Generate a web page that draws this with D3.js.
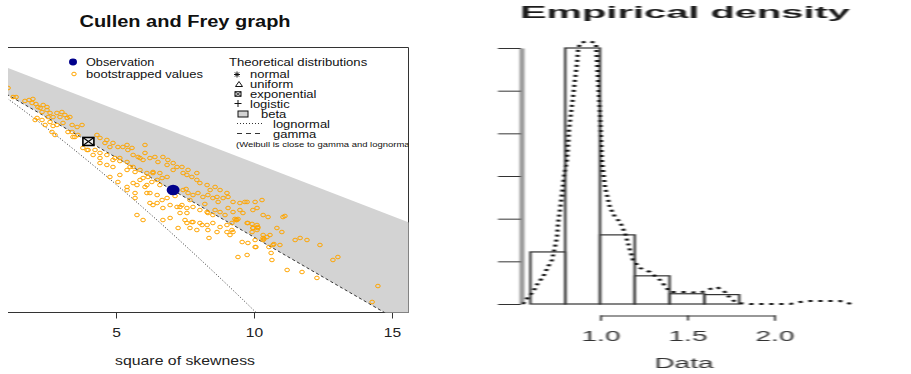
<!DOCTYPE html>
<html>
<head>
<meta charset="utf-8">
<script src="https://cdn.jsdelivr.net/npm/d3@7"></script>
<style>
  html, body { margin: 0; padding: 0; background: #fff; }
  svg { display: block; font-family: "Liberation Sans", Arial, sans-serif; }
</style>
</head>
<body>
<svg id="chart" width="911" height="374"></svg>
<script>
// ---- Cullen and Frey graph: [square of skewness, kurtosis] ----
const observation = [7.07, 13.57];
const bootstrapped = [
  [1.09,3.97],[1.27,4.82],[1.38,4.82],[1.85,5.10],[1.99,5.00],[1.96,5.38],[2.10,5.48],[2.17,5.76],[2.25,5.85],[2.36,5.57],
  [2.32,6.23],[2.50,6.04],[2.61,6.32],[2.54,6.70],[2.72,6.70],[2.86,6.32],[2.97,6.70],[3.15,6.51],[3.23,6.79],[3.33,6.70],
  [2.14,6.79],[2.07,6.98],[2.32,6.98],[2.61,7.17],[2.43,7.45],[2.86,7.45],[3.08,7.26],[3.41,7.45],[3.59,7.64],[3.77,7.45],
  [2.68,8.11],[2.79,8.39],[3.41,8.11],[3.51,8.58],[3.62,8.39],[4.31,8.39],[4.42,8.67],[4.67,8.86],[4.89,9.14],[5.07,9.52],
  [5.40,9.33],[5.58,9.61],[3.80,9.61],[3.99,9.80],[4.24,9.80],[4.42,10.08],[4.67,10.27],[4.96,10.56],[5.14,10.84],[5.40,10.93],
  [4.17,10.27],[4.42,10.56],[2.50,5.76],[2.72,7.54],[3.26,8.11],[3.44,8.58],[4.60,9.14],[4.78,9.52],[5.25,9.52],[5.43,9.80],
  [6.05,9.33],[3.95,9.80],[4.89,10.74],[5.14,10.56],[5.80,10.46],[5.98,10.74],[4.42,11.03],[4.67,11.21],[4.89,11.40],[5.40,11.68],
  [5.62,11.40],[5.87,11.68],[6.12,11.97],[6.34,11.87],[6.59,11.97],[6.85,12.34],[7.07,11.68],[7.39,11.40],[7.57,12.15],[7.93,11.97],
  [5.62,12.91],[5.87,12.62],[6.12,13.10],[6.30,12.81],[6.59,13.10],[4.78,12.34],[5.07,12.81],[5.40,13.28],[3.04,6.23],[1.70,5.19],
  [5.62,10.27],[5.87,10.56],[6.05,10.08],[6.23,10.56],[6.41,10.46],[6.52,10.93],[6.70,10.46],[6.85,11.21],[6.88,10.74],[7.07,11.03],
  [7.21,11.40],[7.43,11.97],[7.61,11.68],[7.75,12.34],[7.93,12.62],[8.04,12.91],[8.30,13.10],[8.41,13.57],[8.59,13.28],[8.77,13.57],
  [9.02,13.85],[8.66,14.22],[5.51,11.40],[5.69,11.87],[5.98,12.44],[6.16,12.34],[6.34,11.97],[6.49,12.62],[6.67,12.44],[7.43,13.57],
  [7.54,13.47],[7.61,13.85],[7.79,14.04],[7.97,13.85],[8.15,14.22],[8.33,14.04],[8.51,14.32],[8.70,14.69],[8.88,14.32],[9.06,14.22],
  [9.24,14.69],[9.49,14.79],[9.75,14.69],[10.04,14.69],[10.29,14.51],[5.69,13.85],[6.05,13.28],[6.23,13.85],[6.49,14.04],[6.67,14.51],
  [6.85,14.32],[6.23,14.79],[6.49,14.79],[6.70,15.26],[6.96,14.98],[7.32,15.16],[7.57,15.26],[7.79,15.16],[8.04,15.45],[8.33,15.73],
  [8.59,15.45],[8.77,15.64],[9.06,15.26],[9.24,15.64],[9.49,15.45],[9.60,15.73],[10.11,15.26],[6.70,16.39],[6.96,16.20],[7.25,17.14],
  [7.57,16.67],[7.79,16.58],[8.12,16.86],[8.33,17.33],[7.93,17.33],[7.68,17.14],[9.02,16.86],[9.20,17.33],[9.38,16.39],[9.78,16.67],
  [10.14,17.14],[9.13,17.80],[9.57,18.46],[10.04,18.27],[10.33,18.08],[10.47,17.99],[5.76,15.92],[5.98,16.39],[5.40,13.57],[5.76,13.10],
  [6.12,13.85],[5.69,14.32],[6.34,14.98],[7.21,15.16],[7.39,14.98],[7.57,15.73],[8.30,15.64],[8.51,15.92],[9.67,14.69],[10.33,15.92],
  [10.51,16.11],[11.05,16.11],[11.12,16.01],[7.32,15.73],[7.50,16.39],[7.75,16.58],[8.04,16.67],[8.30,16.86],[8.51,16.67],[8.77,17.05],
  [9.20,16.67],[9.31,16.29],[9.35,16.39],[9.42,16.29],[9.75,16.67],[10.11,16.86],[8.66,17.52],[9.02,17.52],[9.24,17.52],[9.96,17.14],
  [10.11,17.33],[10.33,17.80],[10.58,17.80],[10.83,17.14],[11.01,17.52],[8.37,18.08],[9.78,18.55],[10.04,18.93],[10.33,18.27],[10.69,18.74],
  [10.94,18.74],[11.49,18.27],[11.67,18.08],[11.92,18.27],[12.39,18.74],[9.42,19.87],[9.75,19.68],[10.65,20.15],[12.86,20.15],[13.04,19.87],
  [11.20,21.09],[11.74,21.28],[12.28,21.84],[14.49,22.60],[14.28,24.10],[9.96,15.45],[9.93,16.76],[9.96,17.14],[10.14,17.05],[9.93,17.52],
  [10.36,18.18],[10.07,18.93],[10.54,18.93],[10.72,18.65],[10.62,19.49],[7.68,14.51],[7.14,14.13],[8.22,14.88],[8.95,15.92],[5.14,12.15]
];
const lognormalCurve = [[0,3],[0.465,3.84],[0.961,4.76],[1.488,5.76],[2.048,6.85],[3.267,9.32],[4.624,12.21],[6.125,15.56],[7.776,19.43],[9.583,23.85],[10.547,26.29]];
const gammaLine = [[0,3],[16,27]];
const betaUpper = [[0,1],[16,17]];
const normalPoint = [0, 3];
const uniformPoint = [0, 1.8];
const exponentialPoint = [4, 9];
const logisticPoint = [0, 4.2];
const skewTicks = [5, 10, 15];

// ---- Empirical density ----
const binEdges = [0.6, 0.8, 1.0, 1.2, 1.4, 1.6, 1.8];
const binDensity = [0.61, 3.0, 0.81, 0.33, 0.12, 0.11];
const densityX = [0.557,0.586,0.615,0.644,0.672,0.701,0.724,0.741,0.753,0.759,0.770,0.782,0.793,0.810,0.816,0.822,0.833,0.845,0.856,0.868,0.874,0.885,0.931,0.977,0.989,1.0,1.011,1.029,1.057,1.086,1.115,1.144,1.172,1.190,1.230,1.287,1.345,1.402,1.460,1.517,1.575,1.632,1.672,1.718,1.747,1.787,1.862,2.092,2.149,2.207,2.305,2.379,2.420,2.448];
const densityY = [0,0.082,0.141,0.246,0.316,0.434,0.516,0.668,0.785,0.949,1.102,1.301,1.488,1.688,1.840,2.039,2.238,2.426,2.625,2.824,2.977,3.059,3.082,3.059,2.625,2.238,1.688,1.371,1.137,1.020,0.961,0.832,0.633,0.516,0.422,0.375,0.281,0.141,0.141,0.141,0.129,0.176,0.199,0.141,0.070,0.012,0,0,0.023,0.035,0.035,0.035,0.012,0];
const dataTicks = [1.0, 1.5, 2.0];
const densityTicks = [0, 0.5, 1, 1.5, 2, 2.5, 3];

const svg = d3.select('#chart');
const defs = svg.append('defs');
defs.append('clipPath').attr('id', 'cfClip')
  .append('rect').attr('x', 8).attr('y', 47).attr('width', 400.5).attr('height', 265.5);
defs.append('filter').attr('id', 'soft')
  .attr('x', '-10%').attr('y', '-10%').attr('width', '120%').attr('height', '120%')
  .append('feGaussianBlur').attr('stdDeviation', '1 0.7');

// text squeezed like the reference (wider than tall)
function stretched(parent, px, py, str, size, k, anchor, weight) {
  return parent.append('text')
    .attr('transform', `translate(${px},${py}) scale(${k},1)`)
    .attr('text-anchor', anchor || 'start')
    .attr('font-size', size)
    .attr('font-weight', weight || 'normal')
    .attr('fill', '#111')
    .text(str);
}

// ================= left: Cullen and Frey =================
const x = d3.scaleLinear().domain([5, 15]).range([116, 392]);
const y = d3.scaleLinear().domain([0, 25]).range([45.8, 311.55]);
const line = d3.line().x(d => x(d[0])).y(d => y(d[1]));

const cf = svg.append('g');
stretched(cf, 185, 27, 'Cullen and Frey graph', 16, 1.25, 'middle', 'bold');

cf.append('path')
  .attr('d', 'M8,47.5H408.5V312.5H8')
  .attr('fill', 'none')
  .attr('stroke', '#333');

const xAxis = cf.append('g')
  .attr('transform', 'translate(0,312.5)')
  .call(d3.axisBottom(x).tickValues(skewTicks).tickSize(6).tickSizeOuter(0).tickFormat(d3.format('d')));
xAxis.select('.domain').remove();
xAxis.selectAll('line').attr('stroke', '#333');
xAxis.selectAll('text')
  .attr('y', 24.5).attr('dy', 0)
  .attr('font-size', 12)
  .attr('font-family', '"Liberation Sans", Arial, sans-serif')
  .attr('fill', '#222')
  .attr('transform', 'scale(1.3,1)');

stretched(cf, 185, 365, 'square of skewness', 12, 1.32, 'middle').attr('fill', '#222');

const plot = cf.append('g').attr('clip-path', 'url(#cfClip)');

plot.append('path')
  .attr('d', line(betaUpper.concat(gammaLine.slice().reverse())) + 'Z')
  .attr('fill', '#d3d3d3');

plot.append('path')
  .datum(lognormalCurve)
  .attr('d', d3.line().curve(d3.curveMonotoneX).x(d => x(d[0])).y(d => y(d[1])))
  .attr('fill', 'none')
  .attr('stroke', '#333')
  .attr('stroke-dasharray', '1,2');

plot.append('path')
  .datum(gammaLine)
  .attr('d', line)
  .attr('fill', 'none')
  .attr('stroke', '#333')
  .attr('stroke-dasharray', '3,2.5');

// theoretical points (only exponential falls inside the window)
function boxX(g, cx, cy, w, h, sw) {
  g.append('rect').attr('x', cx - w / 2).attr('y', cy - h / 2).attr('width', w).attr('height', h)
    .attr('fill', '#eee').attr('stroke', '#000').attr('stroke-width', sw);
  g.append('path')
    .attr('d', `M${cx - w / 2},${cy - h / 2}L${cx + w / 2},${cy + h / 2}M${cx + w / 2},${cy - h / 2}L${cx - w / 2},${cy + h / 2}`)
    .attr('stroke', '#000').attr('stroke-width', sw * 0.7);
}
function star(g, cx, cy, r) {
  g.append('path')
    .attr('d', `M${cx - r},${cy}H${cx + r}M${cx},${cy - r}V${cy + r}M${cx - r * 0.7},${cy - r * 0.7}L${cx + r * 0.7},${cy + r * 0.7}M${cx + r * 0.7},${cy - r * 0.7}L${cx - r * 0.7},${cy + r * 0.7}`)
    .attr('stroke', '#111');
}
function tri(g, cx, cy, w, h) {
  g.append('path').attr('d', `M${cx - w / 2},${cy + h / 2}H${cx + w / 2}L${cx},${cy - h / 2}Z`)
    .attr('fill', 'none').attr('stroke', '#111');
}
function plus(g, cx, cy, r) {
  g.append('path').attr('d', `M${cx - r},${cy}H${cx + r}M${cx},${cy - r}V${cy + r}`).attr('stroke', '#111');
}
star(plot, x(normalPoint[0]), y(normalPoint[1]), 4);
tri(plot, x(uniformPoint[0]), y(uniformPoint[1]), 8, 6);
plus(plot, x(logisticPoint[0]), y(logisticPoint[1]), 4);

plot.append('g').selectAll('ellipse')
  .data(bootstrapped)
  .join('ellipse')
  .attr('cx', d => x(d[0]))
  .attr('cy', d => y(d[1]))
  .attr('rx', 2.3)
  .attr('ry', 1.8)
  .attr('fill', 'none')
  .attr('stroke', '#ffa500')
  .attr('stroke-width', 1);

boxX(plot, x(exponentialPoint[0]), y(exponentialPoint[1]), 11, 8, 1.6);

plot.append('ellipse')
  .attr('cx', x(observation[0]))
  .attr('cy', y(observation[1]))
  .attr('rx', 6.5)
  .attr('ry', 5.2)
  .attr('fill', '#00008b');

// legends
const lg = plot.append('g');
lg.append('ellipse').attr('cx', 73).attr('cy', 62).attr('rx', 4).attr('ry', 3.4).attr('fill', '#00008b');
stretched(lg, 86, 66, 'Observation', 10, 1.27);
lg.append('ellipse').attr('cx', 74).attr('cy', 74).attr('rx', 2.2).attr('ry', 1.8)
  .attr('fill', 'none').attr('stroke', '#ffa500');
stretched(lg, 86, 78, 'bootstrapped values', 10, 1.3);

stretched(lg, 229, 66, 'Theoretical distributions', 10, 1.31);
star(lg, 237, 74.5, 3);
stretched(lg, 250, 78, 'normal', 10, 1.3);
tri(lg, 239, 84, 7, 5);
stretched(lg, 250, 88, 'uniform', 10, 1.3);
boxX(lg, 238, 94, 6, 4.5, 1);
stretched(lg, 250, 98, 'exponential', 10, 1.3);
plus(lg, 238, 103.5, 3.5);
stretched(lg, 250, 107.5, 'logistic', 10, 1.3);
lg.append('rect').attr('x', 238).attr('y', 111).attr('width', 10).attr('height', 6)
  .attr('fill', '#d3d3d3').attr('stroke', '#111');
stretched(lg, 261, 117.5, 'beta', 10, 1.3);
lg.append('path').attr('d', 'M237,123.5H262').attr('stroke', '#333').attr('stroke-dasharray', '1,2');
stretched(lg, 273, 127.5, 'lognormal', 10, 1.3);
lg.append('path').attr('d', 'M237,133.5H262').attr('stroke', '#333').attr('stroke-dasharray', '5,4');
stretched(lg, 273, 137.5, 'gamma', 10, 1.3);
stretched(lg, 236, 146.5, '(Weibull is close to gamma and lognormal)', 7.3, 1.3);

// ================= right: Empirical density =================
const ed = svg.append('g').attr('filter', 'url(#soft)');
const inner = ed.append('g').attr('transform', 'scale(2,1)');
const xd = d3.scaleLinear().domain([1, 2]).range([300, 387]);
const yd = d3.scaleLinear().domain([0, 3]).range([304, 48]);

inner.append('text')
  .attr('x', 342.5).attr('y', 18)
  .attr('text-anchor', 'middle')
  .attr('font-weight', 'bold')
  .attr('font-size', 17)
  .attr('textLength', 165)
  .attr('lengthAdjust', 'spacingAndGlyphs')
  .attr('fill', '#1a1a1a')
  .text('Empirical density');

const yAx = inner.append('g')
  .attr('transform', 'translate(260.5,0)')
  .call(d3.axisLeft(yd).tickValues(densityTicks).tickSize(11.5).tickSizeOuter(0).tickFormat(''));
yAx.select('.domain').attr('stroke', '#999').attr('stroke-width', 2.5);
yAx.selectAll('.tick line').attr('stroke', '#333');

const bins = binDensity.map((d, i) => ({ x0: binEdges[i], x1: binEdges[i + 1], d }));
inner.append('g').selectAll('rect')
  .data(bins)
  .join('rect')
  .attr('x', b => xd(b.x0))
  .attr('y', b => yd(b.d))
  .attr('width', b => xd(b.x1) - xd(b.x0))
  .attr('height', b => yd(0) - yd(b.d))
  .attr('fill', 'none')
  .attr('stroke', '#333')
  .attr('stroke-width', 1.2);

inner.append('path')
  .datum(densityX.map((v, i) => [v, densityY[i]]))
  .attr('d', d3.line().x(d => xd(d[0])).y(d => yd(d[1])))
  .attr('fill', 'none')
  .attr('stroke', '#111')
  .attr('stroke-width', 2)
  .attr('stroke-dasharray', '2,3');

const xAx = inner.append('g')
  .attr('transform', 'translate(0,315.5)')
  .call(d3.axisBottom(xd).tickValues(dataTicks).tickSize(5).tickFormat(d3.format('.1f')));
xAx.selectAll('path, line').attr('stroke', '#333');
xAx.selectAll('text')
  .attr('y', 25.5).attr('dy', 0)
  .attr('font-size', 14)
  .attr('font-family', '"Liberation Sans", Arial, sans-serif')
  .attr('fill', '#333');

inner.append('text')
  .attr('x', 342).attr('y', 368)
  .attr('text-anchor', 'middle')
  .attr('font-size', 14)
  .attr('fill', '#333')
  .text('Data');
</script>
</body>
</html>
